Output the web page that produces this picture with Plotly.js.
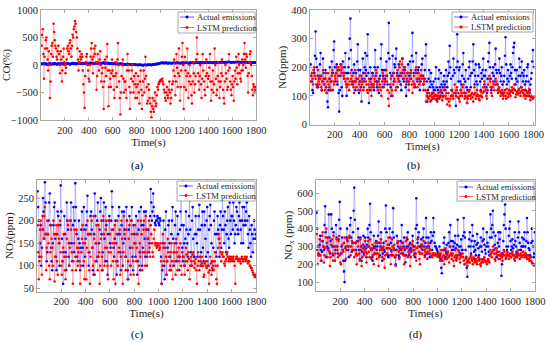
<!DOCTYPE html>
<html><head><meta charset="utf-8">
<script src="https://cdn.plot.ly/plotly-3.0.1.min.js"></script>
<style>html,body{margin:0;padding:0;background:#fff}#chart{width:550px;height:343px}</style>
</head><body><div id="chart"></div>
<script>
const timeStep = 5;
const timeTicks = [200, 400, 600, 800, 1000, 1200, 1400, 1600, 1800];
const seriesNames = ['Actual emissions', 'LSTM prediction'];
const panelLabels = ['(a)', '(b)', '(c)', '(d)'];
const yTitles = ['CO(%)', 'NO(ppm)', 'NO<sub>2</sub>(ppm)', 'NO<sub>x</sub> (ppm)'];
const xTitle = 'Time(s)';

const coActual = [
 20,25,10,15,30,20,15,20,25,15,5,15,20,25,30,20,10,15,25,20,
 15,20,30,25,20,15,10,20,25,15,20,25,15,20,30,25,20,15,10,15,
 25,20,15,25,30,25,20,15,10,20,25,30,35,25,20,25,30,20,15,25,
 30,35,25,30,40,30,20,25,35,30,30,25,25,35,40,35,30,25,35,30,
 25,35,40,30,30,35,35,25,20,30,30,35,40,30,25,35,35,30,30,35,
 35,30,30,40,45,35,25,35,40,30,30,35,35,25,20,30,30,25,25,20,
 20,25,30,20,15,20,25,20,20,15,10,20,25,20,15,20,20,15,10,15,
 15,10,5,15,20,15,10,15,15,5,0,10,10,5,5,10,15,5,0,5,
 5,0,-5,5,10,5,0,0,5,-5,-10,0,0,5,5,0,-5,0,10,5,
 0,5,10,0,-5,5,5,10,15,10,10,15,20,20,15,20,25,25,30,35,
 40,35,35,40,45,35,30,35,40,45,35,30,30,35,40,35,35,30,30,35,
 35,40,40,35,30,40,45,35,35,40,40,35,30,35,35,40,45,40,40,35,
 35,40,45,40,40,35,30,35,40,45,35,40,45,40,40,35,35,40,40,45,
 45,40,40,45,35,40,50,45,40,45,45,40,35,40,40,45,45,50,50,45,
 40,45,50,45,45,40,35,40,45,50,50,45,40,45,55,50,45,40,50,45,
 45,50,55,50,50,45,40,45,50,55,45,50,55,60,60,55,50,45,45,50,
 50,55,45,50,55,50,50,55,60,55,45,50,55,50,50,45,45,50,55,50,
 50,55,45,50,55,45,40,45,50,55,45,40,35,40,50,45,45,40,40,45];
const coPred = [
 350,550,650,200,-250,150,300,450,500,300,100,-100,250,0,-600,-300,200,350,400,150,
 750,600,450,350,300,150,100,250,350,200,0,-150,250,100,-300,-100,150,300,50,0,
 -150,-50,100,300,350,250,200,400,450,300,150,350,550,500,650,700,800,750,600,500,
 300,100,-100,50,250,150,100,200,150,-100,-350,-500,-780,-200,50,150,200,0,-100,-250,
 -300,0,150,300,400,100,-150,150,300,200,350,50,-450,-200,200,50,-100,100,250,0,
 -300,-150,-50,-400,-800,-300,100,-50,-200,150,380,-100,-750,-400,-100,-250,-400,-150,100,-100,
 -200,-450,-600,-200,50,-150,-400,100,400,0,-300,-600,-900,-500,-200,0,100,-250,-500,-300,
 -300,-450,-600,-100,200,0,-100,-400,-800,-500,-250,-100,0,-300,-500,-200,-350,-600,-150,-400,
 -600,-350,-200,-500,-700,-300,-100,-450,-800,-550,-300,-100,-500,-250,150,-200,-400,-700,-650,-350,
 -450,-600,-700,-850,-950,-750,-600,-800,-850,-650,-500,-750,-700,-550,-400,-450,-350,-320,-300,-280,
 -280,-260,-250,-300,-350,-450,-500,-600,-650,-500,-400,-550,-600,-450,-300,-500,-700,-600,-450,-350,
 -300,-100,100,-200,-550,-300,200,-50,-400,-150,300,-200,-650,-400,-100,150,400,0,-800,-400,
 150,-100,-450,-200,300,-150,-600,-300,0,-200,-350,-550,-700,-300,50,-150,-500,-350,-200,100,
 500,200,-150,-300,-450,-200,0,-350,-600,-250,200,-100,-300,-450,-550,-200,100,-150,-400,-250,
 -200,-50,200,-300,-650,-450,-300,-100,-500,-350,300,0,-250,-550,-450,-200,50,-300,-600,-400,
 -300,-150,100,-200,-450,-600,-700,-300,0,-150,-250,-450,-400,-100,200,-50,-300,-450,-550,-350,
 -200,-400,-650,-300,-100,-250,150,-50,-350,-150,200,0,-150,-250,-300,-100,100,-100,0,200,
 400,100,-50,200,150,-200,-500,-150,50,200,250,0,-200,-450,-550,-350,-400,-500,-450,-400];

const noActual = [
 210,170,150,120,110,190,180,240,325,230,200,140,130,170,160,210,250,170,120,150,
 230,180,140,160,190,130,110,80,60,120,160,200,120,150,220,180,180,260,290,200,
 150,180,210,140,190,110,45,120,170,210,130,100,220,180,160,200,250,180,100,140,
 180,200,230,300,370,260,190,150,140,180,210,150,120,180,160,220,280,190,110,150,
 190,130,80,160,230,180,150,200,250,190,170,240,315,180,75,120,200,160,140,180,
 180,140,120,200,260,170,150,130,200,150,110,160,170,230,280,190,130,170,190,140,
 160,190,220,170,140,250,355,230,180,130,100,170,240,180,150,210,200,230,265,180,
 130,170,210,150,170,140,120,180,230,160,150,200,190,130,100,150,180,210,140,170,
 220,180,160,240,320,220,180,140,130,190,250,180,150,190,200,160,120,150,170,210,
 230,170,140,160,190,240,280,150,80,120,160,190,130,150,180,140,110,130,150,120,
 120,160,200,130,90,120,160,190,130,100,180,140,110,130,150,170,140,120,190,150,
 130,170,220,180,275,200,160,120,100,170,230,190,180,110,65,200,315,220,150,190,
 200,150,120,140,170,210,250,160,110,150,190,130,75,120,160,200,220,170,130,180,
 180,220,280,190,140,170,210,150,100,140,170,210,200,150,120,180,160,190,230,170,
 140,170,190,130,110,160,220,250,285,200,160,120,130,180,200,170,150,210,265,190,
 180,140,120,190,230,180,150,170,200,140,110,150,170,240,305,210,140,160,190,150,
 120,170,210,180,160,200,250,270,285,190,140,160,190,150,110,170,230,200,170,130,
 220,180,150,170,190,140,120,150,170,200,210,150,100,120,140,160,180,220,260,200];
const noPred = [
 150,170,180,160,140,190,200,170,160,140,130,170,190,150,140,160,170,130,120,150,
 190,160,140,120,160,180,110,150,180,140,130,160,150,120,170,190,120,150,140,170,
 160,180,200,150,170,200,190,170,210,190,180,200,200,170,160,180,150,140,130,160,
 160,140,120,150,180,160,140,170,150,130,110,150,190,150,130,160,160,120,140,170,
 120,150,170,140,150,120,130,160,180,150,140,120,110,140,160,130,150,120,100,130,
 170,140,130,160,150,190,180,140,120,150,160,130,140,120,100,150,180,160,130,150,
 150,170,190,150,120,90,65,110,140,160,170,120,100,140,180,160,150,120,130,170,
 190,160,150,200,220,180,170,210,230,190,160,180,200,170,140,160,180,150,120,150,
 160,180,190,140,110,150,170,130,140,180,200,160,130,160,180,140,150,170,190,160,
 170,140,120,150,160,120,80,100,110,95,90,110,100,80,85,105,95,90,110,100,
 90,105,100,85,80,100,110,90,95,115,120,100,85,95,100,120,130,100,90,110,
 70,90,110,80,65,90,100,120,120,100,90,110,140,110,100,120,130,95,110,90,
 80,100,120,110,100,130,140,110,90,100,110,95,75,90,100,115,120,100,90,105,
 110,95,80,105,130,110,90,100,120,105,100,90,85,100,115,100,95,110,130,115,
 150,130,120,100,90,120,140,160,170,150,130,110,100,130,150,140,120,140,160,150,
 140,120,110,125,130,115,100,110,120,105,90,100,110,120,100,90,125,110,95,105,
 120,110,100,115,130,120,110,125,140,120,95,105,115,110,105,120,125,110,100,115,
 130,120,110,100,120,105,90,100,115,110,100,115,125,110,85,95,100,95,90,95];

const no2Actual = [
 265,230,200,120,150,190,100,140,180,250,220,160,285,240,170,110,130,170,200,240,
 260,190,140,110,90,150,190,230,240,160,120,90,170,220,210,150,100,190,278,220,
 160,110,60,130,210,170,130,90,240,200,180,120,100,150,200,240,150,110,190,230,
 130,200,283,230,170,120,110,160,200,150,90,140,180,220,140,100,230,180,120,160,
 190,220,255,170,100,130,170,210,220,180,140,90,80,170,260,210,150,110,200,240,
 120,150,180,220,250,170,90,130,200,240,160,110,230,190,110,80,170,200,210,150,
 140,200,265,230,180,140,120,160,200,150,80,110,170,210,230,170,130,90,190,220,
 100,150,220,180,160,120,230,200,90,70,180,210,140,100,200,230,120,90,190,170,
 150,120,210,170,80,110,180,220,130,90,230,190,100,140,190,220,160,120,220,180,
 120,160,180,130,150,210,270,240,200,220,260,230,210,195,190,200,200,210,205,195,
 190,205,200,120,60,90,150,200,100,70,180,220,80,110,140,190,200,150,120,90,
 170,200,230,160,100,130,190,220,150,110,210,170,120,90,180,220,250,190,140,110,
 190,150,100,160,220,180,150,120,170,210,245,180,130,100,200,230,160,120,120,170,
 210,170,150,120,180,210,235,180,100,130,190,220,140,110,220,190,160,120,200,230,
 130,100,180,210,235,190,150,110,90,140,200,220,170,130,120,170,210,180,160,120,
 190,220,140,180,250,210,180,150,220,190,130,170,200,230,160,140,240,200,170,210,
 210,180,240,200,150,170,190,230,220,180,170,210,240,200,180,150,200,230,150,190,
 230,200,190,220,240,200,170,140,210,180,150,120,190,170,130,160,200,180,160,170];
const no2Pred = [
 190,130,70,110,180,200,120,80,210,180,160,210,230,170,90,140,200,170,150,100,
 70,130,190,160,140,100,200,170,65,120,170,190,110,80,190,160,150,200,130,100,
 80,110,140,170,120,90,70,120,160,200,190,150,100,140,200,180,130,90,60,110,
 150,180,120,90,180,140,100,130,140,110,60,100,130,160,190,150,110,70,150,180,
 70,140,200,170,130,90,60,120,170,200,140,100,210,160,80,110,150,190,120,90,
 190,130,60,100,160,200,120,90,210,170,100,140,180,200,140,100,70,130,200,170,
 130,100,180,150,110,70,150,190,60,110,170,200,100,130,140,180,80,120,200,160,
 60,130,210,170,120,90,180,200,70,110,160,190,100,80,200,170,140,110,80,150,
 190,150,110,140,170,200,60,100,150,120,200,170,90,130,180,200,130,100,210,180,
 100,130,160,200,140,120,190,170,150,130,120,160,180,150,145,150,140,145,150,145,
 135,140,150,110,60,100,170,140,110,150,140,120,80,110,160,130,120,90,100,130,
 150,110,70,100,130,150,110,80,160,130,90,120,140,110,120,150,100,80,130,120,
 120,100,80,110,140,125,110,90,130,115,70,100,120,110,100,125,130,110,95,105,
 115,90,60,100,130,110,90,120,110,100,120,105,100,75,80,105,110,100,95,110,
 100,85,60,90,120,105,80,95,110,100,90,110,130,100,70,60,100,140,170,160,
 150,130,110,125,130,120,120,105,100,110,115,125,130,120,110,115,120,110,115,120,
 110,115,120,110,100,60,115,120,120,115,110,115,115,110,105,115,120,115,110,115,
 115,120,110,115,120,110,105,110,110,100,100,95,95,90,85,80,80,75,75,80];

const noxActual = [
 490,400,300,260,250,310,360,280,220,270,330,300,280,420,525,380,240,300,350,290,
 480,350,260,330,480,400,300,250,380,300,220,280,420,350,300,260,340,450,550,400,
 260,300,350,280,220,160,100,220,300,350,400,330,280,240,350,420,460,350,270,320,
 380,500,630,450,320,280,250,330,400,350,280,230,350,300,220,270,310,360,260,300,
 350,290,240,310,400,350,300,420,540,380,280,240,220,290,360,300,260,300,330,280,
 300,360,440,320,250,300,380,290,220,260,320,280,270,400,530,380,290,250,240,310,
 400,350,320,280,250,380,515,350,280,240,200,280,360,320,300,250,240,290,330,280,
 420,320,260,300,350,280,210,250,300,340,380,300,250,280,320,290,270,310,360,300,
 300,260,240,400,570,420,320,350,380,300,260,300,340,310,280,350,400,300,250,320,
 460,350,300,260,350,300,240,320,380,330,280,360,460,380,320,300,300,290,280,270,
 260,240,300,250,230,180,150,220,280,320,350,280,240,270,310,260,270,320,380,300,
 420,330,250,280,330,300,280,320,360,290,230,310,450,360,300,250,260,300,340,280,
 280,360,460,380,350,280,240,180,130,220,300,340,380,300,260,330,420,360,300,270,
 330,280,250,310,370,320,290,250,230,300,350,300,270,330,400,340,310,280,260,300,
 380,320,300,270,250,350,480,400,350,420,500,380,280,310,360,290,240,270,320,380,
 300,340,380,250,135,200,260,330,420,480,535,400,300,280,250,300,360,400,440,330,
 280,300,340,290,250,310,380,330,300,270,260,350,440,380,320,280,280,300,350,300,
 300,340,380,300,250,330,460,380,320,290,280,250,240,320,400,330,300,240,260,380];
const noxPred = [
 370,280,200,250,300,340,250,220,330,360,380,300,210,250,290,350,400,320,240,280,
 350,270,190,240,310,340,260,220,360,300,220,260,300,340,280,240,330,360,250,210,
 200,260,310,280,270,320,350,290,230,280,340,300,300,350,360,300,250,300,330,280,
 280,320,240,280,320,260,200,250,300,330,260,220,340,280,190,240,290,310,250,280,
 330,270,210,260,300,330,270,240,340,290,230,280,310,250,200,260,290,320,260,230,
 320,260,190,240,280,320,340,280,240,290,300,230,180,250,330,290,260,310,350,290,
 290,250,200,270,340,300,250,290,310,240,190,250,280,320,330,270,230,280,300,260,
 260,290,320,250,200,250,290,330,350,290,240,270,310,260,190,240,280,310,330,280,
 250,280,300,260,220,290,340,300,270,230,200,260,310,290,260,300,330,280,240,270,
 290,260,230,270,320,290,260,280,280,250,240,260,260,255,250,260,255,250,245,250,
 250,260,240,220,260,280,220,240,280,250,200,230,290,260,230,250,270,240,210,250,
 300,260,230,250,260,220,190,240,280,250,220,240,250,280,270,230,210,250,240,260,
 260,240,220,200,200,230,240,210,190,220,230,210,210,240,250,230,220,200,240,230,
 210,220,230,210,200,220,240,230,220,200,190,210,230,220,210,230,240,220,220,210,
 200,220,230,220,210,250,280,260,240,270,300,280,260,230,220,260,290,270,250,230,
 270,250,230,250,260,240,220,250,280,270,250,230,240,260,270,250,230,250,260,240,
 240,260,270,250,250,230,220,240,260,250,240,260,280,250,230,250,260,240,250,270,
 270,250,240,260,260,240,230,250,250,230,220,240,240,220,210,205,200,195,195,200];

const panelData = [[coActual, coPred], [noActual, noPred], [no2Actual, no2Pred], [noxActual, noxPred]];
const yRanges = [[-1000, 1000], [0, 400], [43, 290], [50, 673]];
const yTicks = [[-1000, -500, 0, 500, 1000], [0, 100, 200, 300, 400], [50, 100, 150, 200, 250], [100, 200, 300, 400, 500, 600]];
const xRanges = [[0, 1801], [0, 1812], [0, 1801], [0, 1801]];

// ---------- layout geometry (pixels) ----------
const W = 550, H = 343;
const boxes = [
  {x0: 41, x1: 256, y0: 10, y1: 120},
  {x0: 310, x1: 535, y0: 10, y1: 124.5},
  {x0: 37, x1: 256, y0: 180, y1: 291.5},
  {x0: 316, x1: 535, y0: 180, y1: 291}
];
const legendBoxes = [
  {x0: 178, x1: 255, y0: 12, y1: 33, r1: 17, r2: 27.5},
  {x0: 452, x1: 533, y0: 12, y1: 32, r1: 17, r2: 27},
  {x0: 177, x1: 255, y0: 181, y1: 201, r1: 186, r2: 195.5},
  {x0: 457, x1: 534, y0: 181, y1: 201, r1: 187, r2: 196.5}
];
const captionPos = [[137, 165], [413, 165], [137, 334], [415, 334]];
const colors = {actual: '#0000ff', pred: '#ff0000'};
const lineColors = {actual: 'rgba(40,40,255,0.4)', pred: 'rgba(255,40,40,0.4)'};
const FONT = '"Liberation Serif", "Times New Roman", serif';
const px = x => x / W, py = y => 1 - y / H;

const time = [];
for (let i = 1; i <= coActual.length; i++) time.push(i * timeStep);

const traces = [];
const layout = {
  width: W, height: H, margin: {l: 0, r: 0, t: 0, b: 0},
  paper_bgcolor: '#fff', plot_bgcolor: '#fff', showlegend: false,
  font: {family: FONT, color: '#262626'},
  shapes: [], annotations: []
};

panelData.forEach((pair, k) => {
  const sfx = k === 0 ? '' : String(k + 1);
  const xa = 'x' + sfx, ya = 'y' + sfx;
  const b = boxes[k];
  [[pair[0], colors.actual, lineColors.actual], [pair[1], colors.pred, lineColors.pred]].forEach((s, j) => {
    traces.push({
      type: 'scatter', mode: 'lines+markers', x: time, y: s[0], name: seriesNames[j],
      xaxis: xa, yaxis: ya,
      line: {color: s[2], width: 0.7},
      marker: {color: s[1], size: 2.6, symbol: 'circle'}
    });
  });
  const axCommon = {
    showline: true, mirror: 'ticks', linecolor: '#a8a8a8', linewidth: 1,
    ticks: 'inside', ticklen: 3, tickcolor: '#a8a8a8', tickwidth: 1,
    showgrid: false, zeroline: false, tickangle: 0,
    tickfont: {family: FONT, size: 10.5, color: '#262626'}
  };
  layout['xaxis' + sfx] = Object.assign({}, axCommon, {
    domain: [px(b.x0), px(b.x1)], anchor: ya, range: xRanges[k],
    tickvals: timeTicks,
    title: {text: xTitle, font: {family: FONT, size: 11, color: '#262626'}, standoff: 2}
  });
  layout['yaxis' + sfx] = Object.assign({}, axCommon, {
    domain: [py(b.y1), py(b.y0)], anchor: xa, range: yRanges[k],
    tickvals: yTicks[k],
    title: {text: yTitles[k], font: {family: FONT, size: 11, color: '#262626'}, standoff: 2}
  });

  // legend box for each panel (paper space)
  const L = legendBoxes[k];
  layout.shapes.push({type: 'rect', xref: 'paper', yref: 'paper', x0: px(L.x0), x1: px(L.x1), y0: py(L.y1), y1: py(L.y0),
    line: {color: '#a8a8a8', width: 1}, fillcolor: '#ffffff', layer: 'above'});
  [[L.r1, colors.actual, 'rgba(0,0,255,0.6)'], [L.r2, colors.pred, 'rgba(255,0,0,0.6)']].forEach((r, j) => {
    layout.shapes.push({type: 'line', xref: 'paper', yref: 'paper', x0: px(L.x0 + 2), x1: px(L.x0 + 16), y0: py(r[0]), y1: py(r[0]),
      line: {color: r[2], width: 1}, layer: 'above'});
    const cx = L.x0 + 9;
    layout.shapes.push({type: 'circle', xref: 'paper', yref: 'paper', x0: px(cx - 1.3), x1: px(cx + 1.3), y0: py(r[0] + 1.3), y1: py(r[0] - 1.3),
      line: {color: r[1], width: 0.5}, fillcolor: r[1], layer: 'above'});
    layout.annotations.push({xref: 'paper', yref: 'paper', x: px(L.x0 + 17), y: py(r[0]), xanchor: 'left', yanchor: 'middle',
      text: seriesNames[j], showarrow: false, font: {family: FONT, size: 8.6, color: '#262626'}});
  });
  layout.annotations.push({xref: 'paper', yref: 'paper', x: px(captionPos[k][0]), y: py(captionPos[k][1]),
    xanchor: 'center', yanchor: 'middle', text: panelLabels[k], showarrow: false,
    font: {family: FONT, size: 11, color: '#000'}});
});

Plotly.newPlot('chart', traces, layout, {staticPlot: true, displayModeBar: false});
</script>
</body></html>
